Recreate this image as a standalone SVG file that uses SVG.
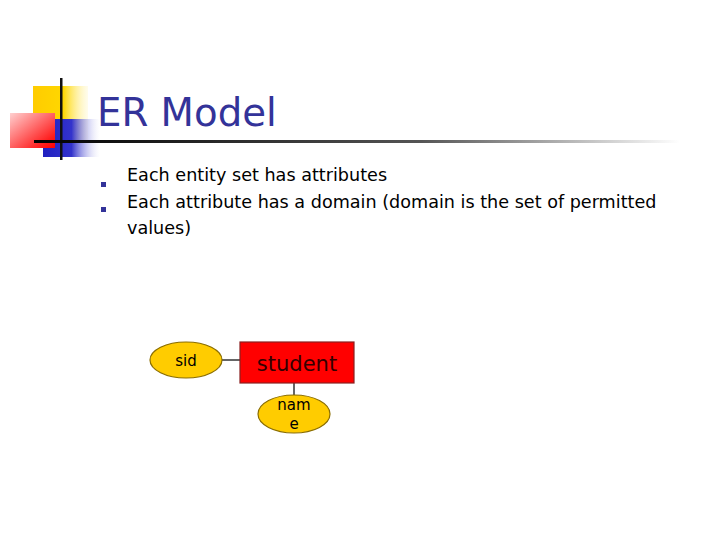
<svg xmlns="http://www.w3.org/2000/svg" width="720" height="540" viewBox="0 0 720 540">
<style>
.t{font-family:"DejaVu Sans","Liberation Sans",sans-serif}
.body{font-size:17.6px;fill:#000}
.attr{fill:#FFCC00;stroke:#8a6d00;stroke-width:1.2}
.conn{stroke:#666;stroke-width:2}
.bul{fill:#333399}
</style>
<defs>
<linearGradient id="gy" x1="0" x2="1" y1="0" y2="0"><stop offset="0" stop-color="#FFCC00"/><stop offset="0.55" stop-color="#FFD700"/><stop offset="1" stop-color="#FFF6C0" stop-opacity="0.3"/></linearGradient>
<linearGradient id="gr" x1="0" x2="1" y1="0" y2="1"><stop offset="0" stop-color="#FFD0D0"/><stop offset="0.8" stop-color="#FF2020"/><stop offset="1" stop-color="#FF0000"/></linearGradient>
<linearGradient id="gb" x1="0" x2="1" y1="0" y2="0"><stop offset="0" stop-color="#2020C0"/><stop offset="0.5" stop-color="#3333CC"/><stop offset="1" stop-color="#FFFFFF" stop-opacity="0.2"/></linearGradient>
<linearGradient id="gl" x1="0" x2="1" y1="0" y2="0"><stop offset="0" stop-color="#000"/><stop offset="0.6" stop-color="#555"/><stop offset="1" stop-color="#fff"/></linearGradient>
</defs>
<g id="logo">
<rect x="33" y="86" width="55" height="54" fill="url(#gy)"/>
<rect x="43" y="119" width="57" height="38" fill="url(#gb)"/>
<rect x="10" y="113" width="45" height="35" fill="url(#gr)"/>
<rect x="60" y="78" width="2.5" height="82" fill="#111"/>
<rect x="34" y="140" width="646" height="3" fill="url(#gl)"/>
</g>
<text id="title" class="t" x="97" y="126" font-size="38.7" fill="#333399">ER Model</text>
<g id="bullets">
<rect class="bul" x="101" y="182" width="5" height="5"/>
<rect class="bul" x="101" y="207" width="5" height="5"/>
<text class="t body" x="127" y="181">Each entity set has attributes</text>
<text class="t body" x="127" y="208">Each attribute has a domain (domain is the set of permitted</text>
<text class="t body" x="127" y="234">values)</text>
</g>
<g id="connectors">
<line class="conn" x1="222" y1="360" x2="240" y2="360"/>
<line class="conn" x1="294" y1="383" x2="294" y2="396"/>
</g>
<g id="student">
<rect x="240" y="342" width="114" height="41" fill="#FF0000" stroke="#8a2020" stroke-width="1.2"/>
<text class="t" x="297" y="371" font-size="21" fill="#330000" text-anchor="middle">student</text>
</g>
<g id="sid">
<ellipse class="attr" cx="186" cy="360" rx="36" ry="18"/>
<text class="t" x="186" y="366" font-size="15" text-anchor="middle">sid</text>
</g>
<g id="name">
<ellipse class="attr" cx="294" cy="414" rx="36" ry="19"/>
<text class="t" x="294" y="410" font-size="15" text-anchor="middle">nam</text>
<text class="t" x="294" y="429" font-size="15" text-anchor="middle">e</text>
</g>
</svg>
